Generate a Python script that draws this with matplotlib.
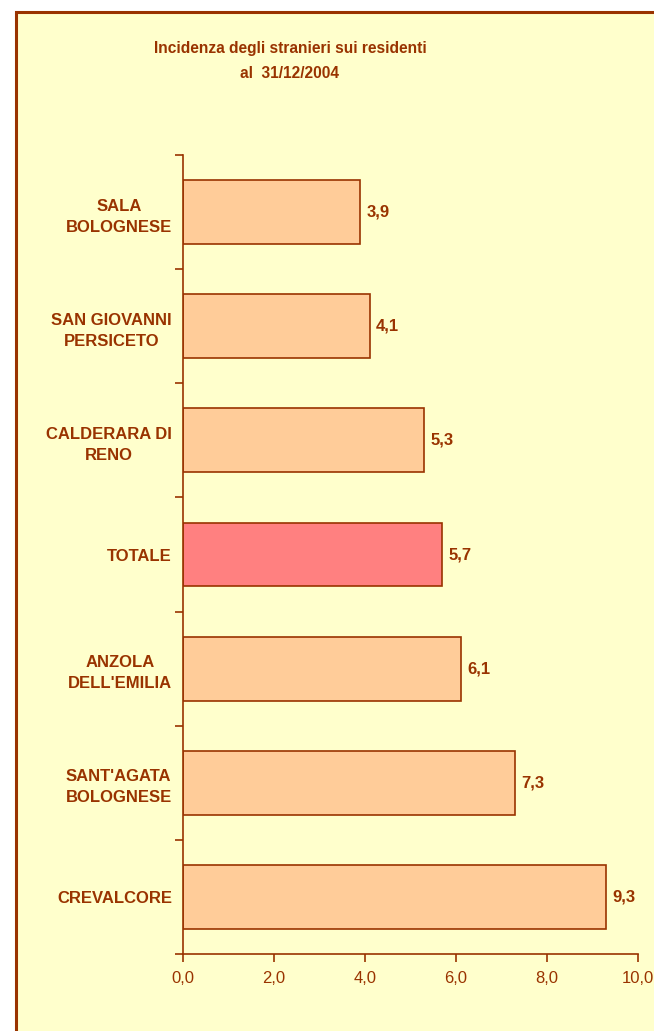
from matplotlib import pyplot as plt
import matplotlib.patches as patches
import numpy

# data (top to bottom)
comuni = ["SALA\nBOLOGNESE", "SAN GIOVANNI\nPERSICETO", "CALDERARA DI\nRENO", "TOTALE",
          "ANZOLA\nDELL'EMILIA", "SANT'AGATA\nBOLOGNESE", "CREVALCORE"]
incidenza = [3.9, 4.1, 5.3, 5.7, 6.1, 7.3, 9.3]
x_ticks = [0, 2, 4, 6, 8, 10]
x_tick_labels = ["0,0", "2,0", "4,0", "6,0", "8,0", "10,0"]

brown = '#993300'
bar_color = '#FFCC99'
totale_color = '#FF8080'
bg = '#FFFFCC'

plt.rcParams['font.family'] = ['Liberation Sans', 'DejaVu Sans']

fig = plt.figure(figsize=(6.54, 10.31), dpi=100)
fig.patch.set_facecolor('white')

# chart area with brown frame, running off the right and bottom edge
frame = patches.Rectangle((16 / 654, -0.01), 1.0, 1 - 12 / 1031 + 0.01, transform=fig.transFigure,
                          facecolor=bg, edgecolor=brown, linewidth=2.2, zorder=-10)
fig.patches.append(frame)

ax = fig.add_axes([183 / 654, 1 - 954 / 1031, (638 - 183) / 654, (954 - 155) / 1031])
ax.set_facecolor('none')

y = numpy.arange(len(comuni))
colors = [totale_color if c == "TOTALE" else bar_color for c in comuni]
ax.barh(y, incidenza, height=0.56, color=colors, edgecolor=brown, linewidth=1.2, zorder=2)

for yi, v in zip(y, incidenza):
    ax.text(v + 0.14, yi, ("%.1f" % v).replace('.', ','), va='center', ha='left',
            fontsize=12, fontweight='bold', color=brown)

ax.set_xlim(0, 10)
ax.set_ylim(len(comuni) - 0.5, -0.5)
ax.set_xticks(x_ticks)
ax.set_xticklabels(x_tick_labels)
ax.set_yticks(y)
ax.set_yticklabels(comuni)
ax.set_yticks(numpy.arange(-0.5, len(comuni) + 0.5, 1), minor=True)
ax.tick_params(axis='y', which='major', length=0, pad=8, labelsize=12, labelcolor=brown)
ax.tick_params(axis='y', which='minor', length=6, width=1.2, color=brown)
ax.tick_params(axis='x', which='major', length=6, width=1.2, color=brown, pad=6,
               labelsize=12, labelcolor=brown)
for lbl in ax.get_yticklabels():
    lbl.set_fontweight('bold')
    lbl.set_multialignment('center')
    lbl.set_linespacing(1.5)

for s in ['top', 'right']:
    ax.spines[s].set_visible(False)
for s in ['left', 'bottom']:
    ax.spines[s].set_color(brown)
    ax.spines[s].set_linewidth(1.2)

fig.text(290 / 654, 1 - 48 / 1031, "Incidenza degli stranieri sui residenti", ha='center', va='center',
         fontsize=11.2, fontweight='bold', color=brown)
fig.text(290 / 654, 1 - 73 / 1031, "al  31/12/2004", ha='center', va='center',
         fontsize=11.2, fontweight='bold', color=brown)

plt.savefig("out.png", dpi=100, facecolor=fig.get_facecolor())
